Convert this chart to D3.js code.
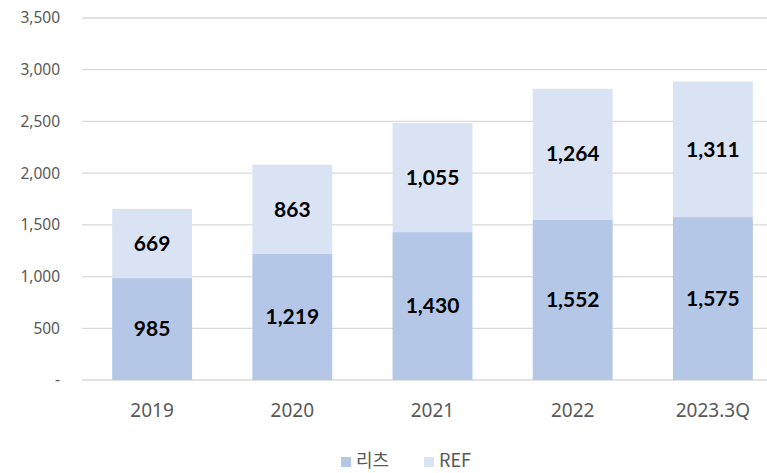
<!DOCTYPE html>
<html>
<head>
<meta charset="utf-8">
<script src="https://cdn.jsdelivr.net/npm/d3@7"></script>
<style>
  body { margin: 0; background: #fff; }
  svg { display: block; font-family: "Noto Sans", "Open Sans", sans-serif; }
</style>
</head>
<body>
<svg id="chart" width="767" height="473"></svg>
<script>
// data
const years = ["2019", "2020", "2021", "2022", "2023.3Q"];
const reits = [985, 1219, 1430, 1552, 1575];
const ref = [669, 863, 1055, 1264, 1311];
const seriesNames = ["리츠", "REF"];
const yTicks = [0, 500, 1000, 1500, 2000, 2500, 3000, 3500];

const colors = { "리츠": "#b4c7e7", "REF": "#dae3f3" };

const svg = d3.select("#chart");

const x = d3.scaleBand()
    .domain(years)
    .range([82, 783])
    .paddingInner(0.43)
    .paddingOuter(0.215);

const y = d3.scaleLinear()
    .domain([0, 3500])
    .range([380, 18]);

// gridlines
svg.append("g")
    .selectAll("line")
    .data(yTicks)
    .join("line")
    .attr("x1", 82).attr("x2", 767)
    .attr("y1", d => y(d)).attr("y2", d => y(d))
    .attr("stroke", "#d9d9d9")
    .attr("stroke-width", 1.3);

// y labels
const fmt = d3.format(",");
svg.append("g")
    .selectAll("text")
    .data(yTicks)
    .join("text")
    .attr("x", 60)
    .attr("y", d => y(d))
    .attr("dy", "0.35em")
    .attr("text-anchor", "end")
    .attr("fill", "#595959")
    .style("font-size", "15.5px")
    .text(d => d === 0 ? "-" : fmt(d));

// stacked data
const rows = years.map((yr, i) => ({ year: yr, "리츠": reits[i], "REF": ref[i] }));
const stack = d3.stack().keys(seriesNames)(rows);

const layers = svg.append("g")
    .selectAll("g")
    .data(stack)
    .join("g")
    .attr("fill", d => colors[d.key]);

layers.selectAll("rect")
    .data(d => d)
    .join("rect")
    .attr("x", d => x(d.data.year))
    .attr("width", x.bandwidth())
    .attr("y", d => y(d[1]))
    .attr("height", d => y(d[0]) - y(d[1]));

// value labels
layers.selectAll("text")
    .data(d => d)
    .join("text")
    .attr("x", d => x(d.data.year) + x.bandwidth() / 2)
    .attr("y", d => (y(d[0]) + y(d[1])) / 2)
    .attr("dy", "0.35em")
    .attr("text-anchor", "middle")
    .attr("fill", "#000")
    .style("font-family", "Lato, 'Noto Sans', sans-serif")
    .style("font-size", "21px")
    .style("font-weight", "bold")
    .text(d => fmt(d[1] - d[0]));

// x labels
svg.append("g")
    .selectAll("text")
    .data(years)
    .join("text")
    .attr("x", d => x(d) + x.bandwidth() / 2)
    .attr("y", 410)
    .attr("dy", "0.35em")
    .attr("text-anchor", "middle")
    .attr("fill", "#595959")
    .style("font-size", "19px")
    .text(d => d);

// legend
const legendX = [341, 424];
const legend = svg.append("g")
    .selectAll("g")
    .data(seriesNames)
    .join("g")
    .attr("transform", (d, i) => `translate(${legendX[i]},461)`);

legend.append("rect")
    .attr("x", 0).attr("y", -4)
    .attr("width", 10).attr("height", 10)
    .attr("fill", d => colors[d]);

legend.append("text")
    .attr("x", 15)
    .attr("dy", "0.35em")
    .attr("fill", "#595959")
    .style("font-size", "18px")
    .style("font-family", "'Noto Sans CJK KR', 'Noto Sans', sans-serif")
    .text(d => d);
</script>
</body>
</html>
